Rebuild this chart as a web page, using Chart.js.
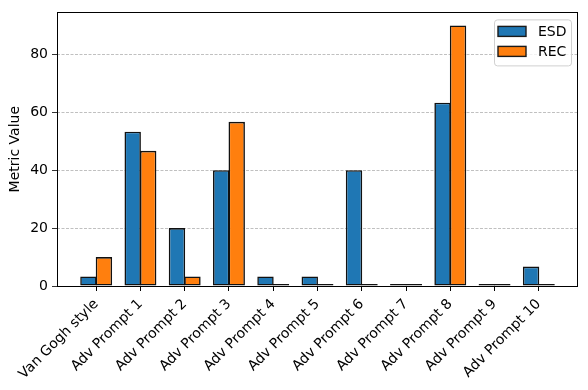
<!DOCTYPE html>
<html>
<head>
<meta charset="utf-8">
<script src="https://cdn.jsdelivr.net/npm/chart.js@4"></script>
<style>
  body { margin: 0; background: #fff; }
  canvas { display: block; }
</style>
</head>
<body>
<canvas id="chart" width="588" height="390"></canvas>
<script>
// values
const categories = ['Van Gogh style', 'Adv Prompt 1', 'Adv Prompt 2', 'Adv Prompt 3', 'Adv Prompt 4',
  'Adv Prompt 5', 'Adv Prompt 6', 'Adv Prompt 7', 'Adv Prompt 8', 'Adv Prompt 9', 'Adv Prompt 10'];
const esdValues = [3.3, 53.3, 20, 40, 3.3, 3.3, 40, 0, 63.3, 0, 6.7];
const recValues = [10, 46.7, 3.3, 56.7, 0, 0, 0, 0, 90, 0, 0];
const yTicks = [0, 20, 40, 60, 80];

const font = { family: 'DejaVu Sans', size: 14 };

const toPoints = arr => arr.map((v, i) => ({ x: i, y: v }));

// box round the plot area and the legend inside it, like matplotlib
const framePlugin = {
  id: 'frame',
  afterDraw(chart) {
    const c = chart.ctx;
    const a = chart.chartArea;
    c.save();
    c.strokeStyle = '#000';
    c.lineWidth = 1;
    c.strokeRect(Math.round(a.left) + 0.5, Math.round(a.top) + 0.5,
      Math.round(a.right - a.left) - 1, Math.round(a.bottom - a.top));

    // legend
    const bx = a.right - 84, by = a.top + 7, bw = 77, bh = 46;
    c.beginPath();
    c.roundRect(bx + 0.5, by + 0.5, bw, bh, 3);
    c.fillStyle = 'rgba(255,255,255,0.8)';
    c.fill();
    c.strokeStyle = '#d0d0d0';
    c.stroke();
    c.font = '14px "DejaVu Sans"';
    c.textBaseline = 'middle';
    chart.data.datasets.forEach((ds, i) => {
      const y = by + 7 + i * 20;
      c.fillStyle = ds.backgroundColor;
      c.fillRect(bx + 4, y, 28, 10);
      c.strokeStyle = '#1a1a1a';
      c.lineWidth = 1.4;
      c.strokeRect(bx + 4, y, 28, 10);
      c.fillStyle = '#000';
      c.fillText(ds.label, bx + 44, y + 5.5);
    });
    c.restore();
  }
};

new Chart(document.getElementById('chart'), {
  type: 'bar',
  data: {
    datasets: [
      {
        label: 'ESD',
        data: toPoints(esdValues),
        backgroundColor: '#1f77b4',
        borderColor: '#111',
        borderWidth: 1.6,
        borderSkipped: false
      },
      {
        label: 'REC',
        data: toPoints(recValues),
        backgroundColor: '#ff7f0e',
        borderColor: '#111',
        borderWidth: 1.6,
        borderSkipped: false
      }
    ]
  },
  options: {
    responsive: false,
    animation: false,
    // slight overlap so neighbouring bars share one edge
    barPercentage: 1.06,
    categoryPercentage: 0.7,
    minBarLength: 2,
    layout: { padding: { top: 10, right: 10, left: 0, bottom: 0 } },
    plugins: {
      legend: { display: false },
      tooltip: { enabled: false }
    },
    scales: {
      x: {
        type: 'linear',
        offset: false,
        min: -0.885,
        max: 10.885,
        afterBuildTicks: s => { s.ticks = categories.map((_, i) => ({ value: i })); },
        afterFit: s => { s.height = 104; },
        ticks: {
          autoSkip: false,
          minRotation: 45,
          maxRotation: 45,
          padding: 5,
          color: '#000',
          font: font,
          callback: v => categories[v]
        },
        grid: {
          offset: false,
          drawOnChartArea: false,
          tickLength: 5,
          tickColor: '#000'
        },
        border: { display: false }
      },
      y: {
        min: 0,
        max: 94.5,
        afterBuildTicks: s => { s.ticks = yTicks.map(v => ({ value: v })); },
        afterFit: s => { s.width = 57; },
        title: {
          display: true,
          text: 'Metric Value',
          color: '#000',
          font: font,
          padding: { top: 7, bottom: 0 }
        },
        ticks: { color: '#000', font: font, padding: 4 },
        grid: {
          color: '#b0b0b0',
          lineWidth: 0.8,
          tickLength: 5,
          tickColor: '#000',
          tickBorderDash: []
        },
        border: { display: false, dash: [3, 1.5] }
      }
    }
  },
  plugins: [framePlugin]
});
</script>
</body>
</html>
